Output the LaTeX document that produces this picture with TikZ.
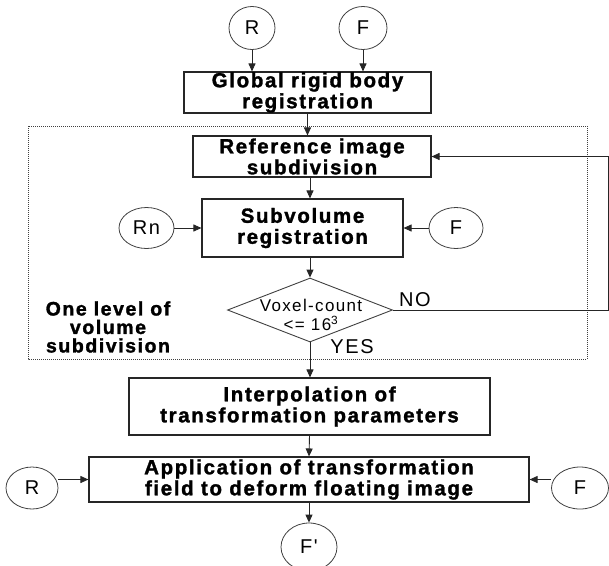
\documentclass[tikz,border=0pt]{standalone}
\usepackage{fontspec}
\setmainfont{Liberation Sans}
\newfontfamily\lsp{Liberation Sans}[LetterSpace=8]
\newfontfamily\lspb{Liberation Sans}[LetterSpace=8, BoldFeatures={FakeBold=1.5}]
\usetikzlibrary{arrows.meta,shapes.geometric}
\newcommand\boxfont{\lspb\bfseries\fontsize{20.5}{21}\selectfont}
\newcommand\circfont{\lsp\fontsize{20}{20}\selectfont}
\newcommand\decfont{\lsp\fontsize{17}{19}\selectfont}
\newcommand\lblfont{\lspb\bfseries\fontsize{19.5}{18.5}\selectfont}
\tikzset{
  box/.style={draw=black!85, line width=1.1pt, inner sep=0pt, font=\boxfont, align=center},
  circ/.style={ellipse, draw=black!75, line width=0.8pt, inner sep=0pt, font=\circfont},
  arr/.style={-{Triangle[length=8pt,width=7pt]}, line width=0.9pt, draw=black!85},
  dotbox/.style={draw=black!75, line width=1pt, dash pattern=on 1pt off 1pt},
}
\begin{document}
\begin{tikzpicture}[x=1pt,y=-1pt]
\useasboundingbox (0,0) rectangle (609,565);
% top inputs
\node[circ, minimum width=46pt, minimum height=43pt] (R1) at (252,28) {R};
\node[circ, minimum width=48pt, minimum height=43pt] (F1) at (363,28) {F};
\node[box, minimum width=247pt, minimum height=41pt] (G) at (307.5,92.5) {Global rigid body\\registration};
% dotted frame
\draw[dotbox] (28,126) rectangle (587,359);
\node[box, minimum width=238pt, minimum height=41pt] (Ref) at (312,156.5) {Reference image\\subdivision};
\node[box, minimum width=201pt, minimum height=58pt] (S) at (302.5,228) {Subvolume\\registration};
\node[circ, minimum width=55pt, minimum height=41pt] (Rn) at (146.5,228) {Rn};
\node[circ, minimum width=54pt, minimum height=41pt] (F2) at (456,228) {F};
\node[diamond, draw=black!75, line width=0.9pt, minimum width=165pt, minimum height=64pt, inner sep=0pt] (D) at (310,310) {};
\node[font=\decfont, align=center, inner sep=0pt] (Dt) at (311,315) {Voxel-count\\<= 16\textsuperscript{3}};
\node[font=\circfont, inner sep=0pt] (NO) at (415,300) {NO};
\node[font=\circfont, inner sep=0pt] (YES) at (352,347) {YES};
\node[font=\lblfont, align=center, inner sep=0pt] (lbl) at (108,327) {One level of\\volume\\subdivision};
\coordinate (c1) at (608,310);
% lower part
\node[box, minimum width=361pt, minimum height=57pt] (I) at (309.5,406.5) {Interpolation of\\transformation parameters};
\node[box, minimum width=440pt, minimum height=45pt] (A) at (309,479.5) {Application of transformation\\field to deform floating image};
\node[circ, minimum width=52pt, minimum height=42pt] (R3) at (32,488) {R};
\node[circ, minimum width=57pt, minimum height=42pt] (F3) at (580,488) {F};
\node[circ, minimum width=56pt, minimum height=48pt] (Fp) at (309,547) {F'};
% connectors
\draw[arr] (R1) -- (R1 |- G.north);
\draw[arr] (F1) -- (F1 |- G.north);
\draw[arr] (G.south) -- (G.south |- Ref.north);
\draw[arr] (Ref.south -| D) -- (S.north -| D);
\draw[arr] (Rn.east) -- (S.west);
\draw[arr] (F2.west) -- (S.east);
\draw[arr] (S.south -| D) -- (D.north);
\draw[arr] (D.east) -- (c1) |- (Ref.east);
\draw[arr] (D.south) -- (I.north -| D);
\draw[arr] (I.south) -- (A.north);
\draw[arr] (R3.east |- A.west) -- (A.west);
\draw[arr] (F3.west |- A.east) -- (A.east);
\draw[arr] (A.south) -- (Fp);
\end{tikzpicture}
\end{document}
